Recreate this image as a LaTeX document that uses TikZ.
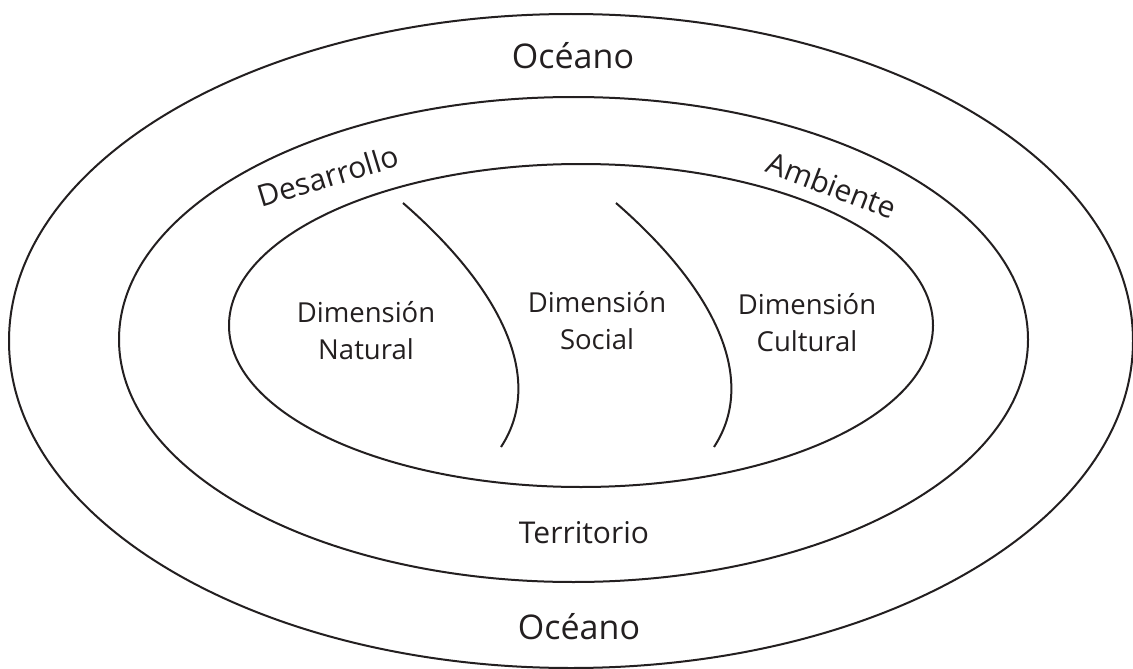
\documentclass[tikz,border=0pt]{standalone}
\usepackage{fontspec}
\setmainfont{Open Sans}
\definecolor{ink}{HTML}{231F20}
\begin{document}
\begin{tikzpicture}[x=1pt,y=-1pt,
  ring/.style={draw=ink,line width=2pt},
  divider/.style={draw=ink,line width=2pt},
  big/.style={text=ink,font=\fontsize{34}{40}\selectfont,inner sep=0pt},
  mid/.style={text=ink,font=\fontsize{30}{36}\selectfont,inner sep=0pt},
  dim/.style={text=ink,font=\fontsize{27.5}{37}\selectfont,align=center,inner sep=0pt}]
\useasboundingbox (0,0) rectangle (1133,669);
\fill[white] (0,0) rectangle (1133,669);
% rings
\draw[ring] (571,341) ellipse [x radius=562, y radius=327];
\draw[ring] (573.5,339.5) ellipse [x radius=454.5, y radius=242.5];
\draw[ring] (581,325.5) ellipse [x radius=352, y radius=161.5];
% dividers
\coordinate (d1a) at (403,203);
\coordinate (d1b) at (501,447);
\coordinate (d2a) at (616,203);
\coordinate (d2b) at (714,447);
\draw[divider] (d1a) .. controls (503,290) and (545,380) .. (d1b);
\draw[divider] (d2a) .. controls (716,290) and (758,380) .. (d2b);
% labels
\node[big] (oceantop) at (573,56) {Océano};
\node[big] (oceanbot) at (579,627) {Océano};
\node[mid] (territorio) at (584,533) {Territorio};
\node[mid,rotate=17] (desarrollo) at (328,176) {Desarrollo};
\node[mid,rotate=-21] (ambiente) at (832,185) {Ambiente};
\node[dim] (natural) at (366,331) {Dimensión\\Natural};
\node[dim] (social) at (597,321) {Dimensión\\Social};
\node[dim] (cultural) at (807,323) {Dimensión\\Cultural};
\end{tikzpicture}
\end{document}
